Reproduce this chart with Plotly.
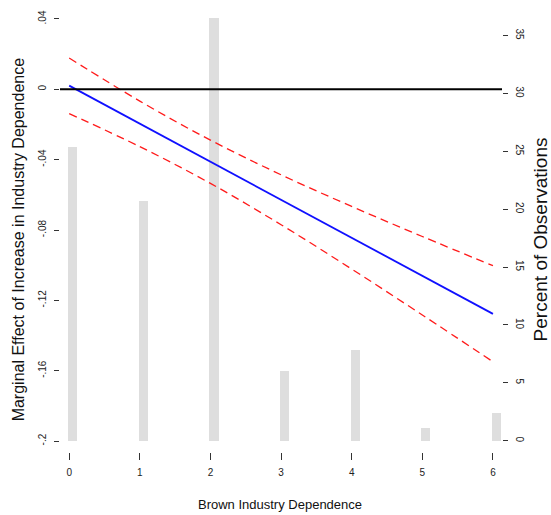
import plotly.graph_objects as go

# Brown industry dependence levels
dependence = [0, 1, 2, 3, 4, 5, 6]

# Marginal effect of an increase in industry dependence, with 95% bounds
effect = [0.0021, -0.0195, -0.0411, -0.0627, -0.0843, -0.1060, -0.1277]
upper = [0.0178, -0.0067, -0.0289, -0.0486, -0.0666, -0.0837, -0.1003]
lower = [-0.0138, -0.0326, -0.0535, -0.0770, -0.1022, -0.1283, -0.1549]

# Share of observations at each dependence level (percent)
percent = [25.4, 20.7, 36.5, 6.0, 7.8, 1.1, 2.4]

left_ticks = [-0.2, -0.16, -0.12, -0.08, -0.04, 0, 0.04]
left_labels = ["-.2", "-.16", "-.12", "-.08", "-.04", "0", ".04"]
right_ticks = [0, 5, 10, 15, 20, 25, 30, 35]

tick_font = dict(family="Liberation Sans, Arial, sans-serif", size=10, color="#222222")
title_font = dict(family="Liberation Sans, Arial, sans-serif", size=16, color="#111111")

fig = go.Figure()

# histogram of observations (right axis)
fig.add_trace(go.Bar(
    x=dependence, y=percent, yaxis="y",
    width=0.13, offset=-0.015,
    marker=dict(color="#dedede", line=dict(width=0)),
    showlegend=False,
))

# confidence bounds and point estimate (left axis)
for band in (upper, lower):
    fig.add_trace(go.Scatter(
        x=dependence, y=band, yaxis="y2", mode="lines",
        line=dict(color="#ff1a1a", width=1.3, dash="8px,5px", shape="spline"),
        showlegend=False,
    ))
fig.add_trace(go.Scatter(
    x=dependence, y=effect, yaxis="y2", mode="lines",
    line=dict(color="#1010ff", width=1.8),
    showlegend=False,
))

fig.update_layout(
    width=551, height=515,
    margin=dict(l=60, r=49, t=10, b=63),
    paper_bgcolor="white", plot_bgcolor="white",
    bargap=0,
    xaxis=dict(
        range=[-0.130, 6.128], tickvals=dependence, ticktext=[str(v) for v in dependence],
        showgrid=False, zeroline=False, showline=False,
        ticks="outside", ticklen=7, tickwidth=1, tickcolor="#333333",
        tickfont=tick_font, ticklabelstandoff=4,
    ),
    yaxis=dict(
        side="right", range=[-0.971, 37.03], tickvals=right_ticks,
        showgrid=False, zeroline=False, showline=False,
        ticks="outside", ticklen=5, tickwidth=1, tickcolor="#333333",
        tickfont=tick_font, tickangle=90, ticklabelstandoff=4,
    ),
    yaxis2=dict(
        overlaying="y", side="left", range=[-0.20623, 0.04396],
        tickvals=left_ticks, ticktext=left_labels,
        showgrid=False, zeroline=False, showline=False,
        ticks="outside", ticklen=5, tickwidth=1, tickcolor="#333333",
        tickfont=tick_font, tickangle=-90, ticklabelstandoff=4,
    ),
    shapes=[dict(
        type="line", xref="paper", x0=0, x1=1, yref="y2", y0=0, y1=0,
        line=dict(color="black", width=2), layer="above",
    )],
    annotations=[
        dict(text="Brown Industry Dependence", xref="paper", yref="paper",
             x=0.497, y=-0.12, xanchor="center", yanchor="middle", showarrow=False,
             font=dict(family="Liberation Sans, Arial, sans-serif",
                       size=13, color="#111111")),
        dict(text="Marginal Effect of Increase in Industry Dependence", xref="paper", yref="paper",
             x=-0.093, y=0.483, xanchor="center", yanchor="middle", showarrow=False,
             textangle=-90, font=title_font),
        dict(text="Percent of Observations", xref="paper", yref="paper",
             x=1.088, y=0.483, xanchor="center", yanchor="middle", showarrow=False,
             textangle=-90, font=dict(family="Liberation Sans, Arial, sans-serif",
                                      size=19, color="#111111")),
    ],
)

fig.write_html("out.html")
